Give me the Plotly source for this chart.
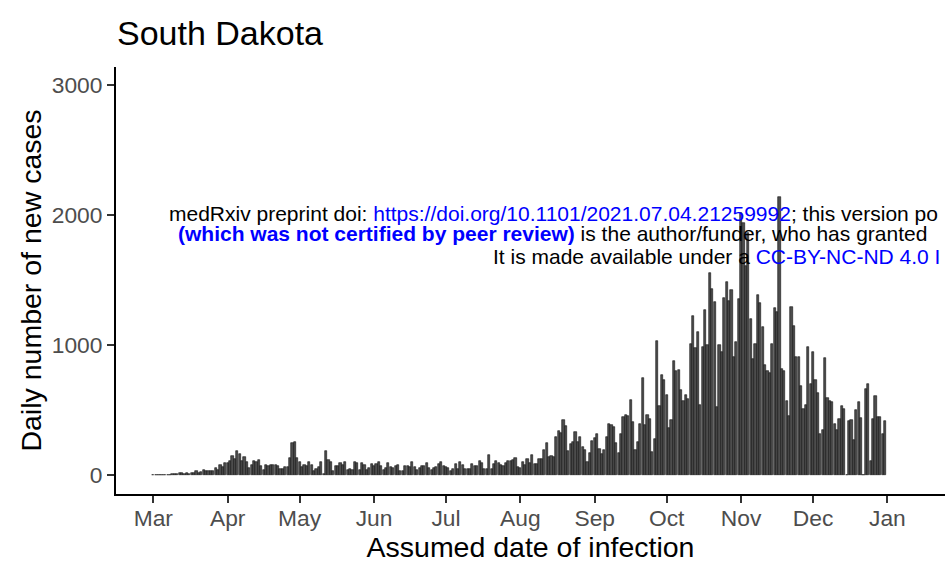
# South Dakota - daily new cases by assumed date of infection
import pandas as pd
import plotly.graph_objects as go

# daily new cases, one list per month (2020)
mar = [0, 0, 0, 0, 0, 0, 0, 0, 1, 2, 1, 10, 8, 5, 10, 6, 12, 12, 28, 12,
       20, 38, 30, 30, 30, 30, 50, 38, 74, 60, 90]
apr = [90, 105, 146, 120, 180, 160, 105, 135, 100, 49, 77, 105, 95, 113, 67,
       36, 74, 62, 74, 74, 74, 64, 44, 44, 59, 59, 125, 245, 253, 125]
may = [100, 56, 74, 69, 100, 74, 31, 44, 59, 100, 3, 182, 113, 100, 31, 62,
       62, 87, 74, 95, 38, 44, 36, 95, 90, 38, 90, 74, 36, 49, 79]
jun = [62, 79, 95, 64, 36, 49, 87, 56, 54, 69, 74, 31, 31, 64, 64, 56, 95,
       56, 38, 51, 64, 64, 90, 49, 36, 49, 56, 79, 95, 62]
jul = [56, 49, 31, 44, 82, 44, 95, 74, 44, 44, 44, 79, 69, 64, 105, 90, 44,
       44, 151, 44, 79, 105, 90, 74, 69, 90, 105, 105, 113, 125, 56]
aug = [51, 97, 77, 123, 92, 154, 84, 84, 123, 123, 192, 246, 138, 146, 133,
       292, 338, 323, 422, 376, 184, 238, 253, 330, 253, 292, 212, 192, 100,
       169, 261]
sep = [284, 315, 200, 161, 192, 292, 392, 384, 369, 246, 169, 315, 445, 461,
       453, 576, 407, 192, 253, 392, 745, 384, 461, 430, 177, 276, 1029, 530,
       768, 730]
oct_ = [614, 358, 417, 876, 794, 806, 653, 563, 614, 584, 1004, 1221, 978,
        1096, 535, 986, 1268, 1001, 1550, 1429, 1331, 520, 999, 940, 1357,
        1482, 1336, 1420, 906, 1021, 1349]
nov = [2012, 1935, 1610, 1859, 1198, 891, 1006, 1380, 1319, 1140, 845, 800,
       781, 1006, 1285, 1250, 2138, 812, 794, 563, 448, 1293, 1144, 909, 909,
       684, 507, 538, 986, 699]
dec = [945, 730, 630, 315, 346, 899, 591, 568, 561, 392, 346, 430, 530, 507,
       0, 415, 422, 269, 499, 561, 438, 0, 660, 699, 108, 430, 607, 445, 445,
       315, 415]

cases = mar + apr + may + jun + jul + aug + sep + oct_ + nov + dec
dates = pd.date_range("2020-03-01", periods=len(cases), freq="D")

month_ticks = pd.date_range("2020-03-01", "2021-01-01", freq="MS")
month_labels = ["Mar", "Apr", "May", "Jun", "Jul", "Aug", "Sep", "Oct", "Nov", "Dec", "Jan"]
y_ticks = [0, 1000, 2000, 3000]

FONT = "Liberation Sans, Arial, Helvetica, sans-serif"
W, H = 945, 566
L, R, T, B = 116, 0, 67, 72


def px_to_paper(px, py):
    # page pixel -> paper coords of the plot area
    return (px - L) / (W - L - R), (H - B - py) / (H - T - B)


fig = go.Figure(go.Bar(
    x=dates, y=cases,
    width=0.9 * 86400000,
    marker=dict(color="#4d4d4d", line=dict(color="#111111", width=0.6)),
))

axis_style = dict(
    showline=True, linecolor="black", linewidth=2,
    ticks="outside", ticklen=7, tickwidth=2, tickcolor="#333333",
    tickfont=dict(size=22.8, color="#4d4d4d", family=FONT),
    showgrid=False, zeroline=False,
)

fig.update_xaxes(
    range=["2020-02-14 10:48", "2021-01-25"],
    tickvals=month_ticks, ticktext=month_labels,
    ticklabelstandoff=-4,
    title=dict(text="Assumed date of infection", font=dict(size=28.5, color="black"), standoff=5),
    **axis_style,
)
fig.update_yaxes(
    range=[-150, 3139],
    tickvals=y_ticks, ticktext=[str(v) for v in y_ticks],
    title=dict(text="Daily number of new cases", font=dict(size=28.5, color="black"), standoff=2),
    **axis_style,
)

# medRxiv watermark lines
blue = "color:#0000ff"
lines = [
    (167, 213, "medRxiv preprint doi: <span style='%s'>https://doi.org/10.1101/2021.07.04.21259992</span>; this version po" % blue),
    (176, 233, "<span style='%s'><b>(which was not certified by peer review)</b></span> is the author/funder, who has granted" % blue),
    (491, 256, "It is made available under a <span style='%s'>CC-BY-NC-ND 4.0 I</span>" % blue),
]
for lx, ly, txt in lines:
    ax, ay = px_to_paper(lx, ly)
    fig.add_annotation(x=ax, y=ay, xref="paper", yref="paper", text=txt,
                       showarrow=False, xanchor="left", yanchor="middle",
                       font=dict(size=21, color="black", family=FONT))

fig.update_layout(
    width=W, height=H,
    margin=dict(l=L, r=R, t=T, b=B),
    plot_bgcolor="white", paper_bgcolor="white",
    font=dict(family=FONT, color="black"),
    title=dict(text="South Dakota", x=117 / W, xref="container", xanchor="left",
               y=1 - 33 / H, yref="container", yanchor="middle",
               font=dict(size=34, color="black")),
    showlegend=False,
    bargap=0,
)

# drop the browser's default page margin so the figure sits at the corner
fig.write_html("out.html", config={"displayModeBar": False},
               post_script="document.body.style.margin='0';")
